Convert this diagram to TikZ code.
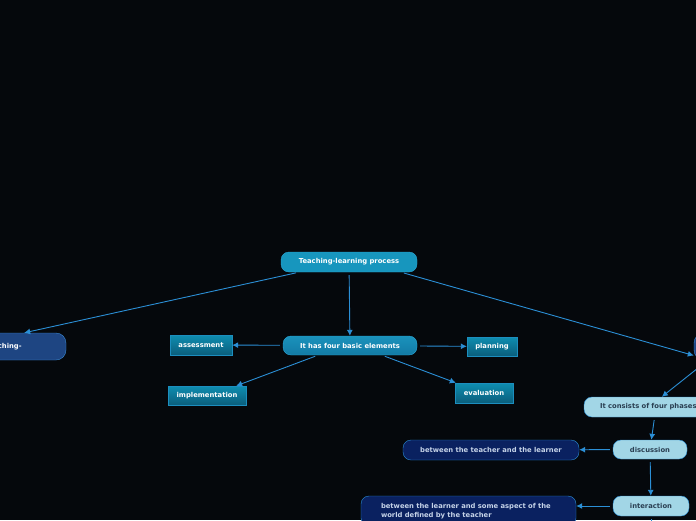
\documentclass[tikz,border=0pt]{standalone}
\usepackage{fontspec}
\setmainfont{DejaVu Sans}
\usepackage{xcolor}
\usepackage{tikz}
\usetikzlibrary{positioning,arrows.meta,calc}
\definecolor{MAPbg}{HTML}{05080C}
\definecolor{MAPline}{HTML}{2B8FD6}
\definecolor{MAProot}{HTML}{1796BE}
\definecolor{MAProotEdge}{HTML}{2AA6D6}
\definecolor{MAPmidTop}{HTML}{1A92BC}
\definecolor{MAPmidBot}{HTML}{137BA6}
\definecolor{MAPtealTop}{HTML}{0E8DB0}
\definecolor{MAPtealBot}{HTML}{0B5E7C}
\definecolor{MAPtealEdge}{HTML}{1C8EBF}
\definecolor{MAPlight}{HTML}{A2D6E6}
\definecolor{MAPlightText}{HTML}{2A3F52}
\definecolor{MAPnavy}{HTML}{0A2160}
\definecolor{MAPnavyText}{HTML}{C5D3E8}
\definecolor{MAPside}{HTML}{1E4582}
\definecolor{MAPsideEdge}{HTML}{3A8AD6}
\tikzset{
  mapfont/.style={font=\fontsize{6.8}{8.4}\selectfont\bfseries},
  rootbox/.style={mapfont, rounded corners=8pt, draw=MAProotEdge, fill=MAProot, text=white, align=center, inner sep=0pt},
  midbox/.style={mapfont, rounded corners=8pt, draw=MAProotEdge, top color=MAPmidTop, bottom color=MAPmidBot, text=white, align=center, inner sep=0pt},
  tealbox/.style={mapfont, draw=MAPtealEdge, top color=MAPtealTop, bottom color=MAPtealBot, text=white, align=center, inner sep=0pt},
  lightbox/.style={mapfont, rounded corners=8pt, draw=MAPline, fill=MAPlight, text=MAPlightText, align=center, inner sep=0pt},
  navybox/.style={mapfont, rounded corners=8pt, draw=MAPline, fill=MAPnavy, text=MAPnavyText, align=center, inner sep=0pt},
  sidebox/.style={mapfont, rounded corners=10pt, draw=MAPsideEdge, fill=MAPside, text=white, inner sep=0pt},
  maparr/.style={-{Latex[length=6pt,width=6pt]}, line width=0.9pt, draw=MAPline, shorten <=3pt}
}
\begin{document}
\begin{tikzpicture}[x=1pt, y=-1pt]
  \useasboundingbox (0,0) rectangle (696,520);
  \fill[MAPbg] (0,0) rectangle (696,520);
  \clip (0,0) rectangle (696,520);
  \node[rootbox, minimum width=136pt, minimum height=20pt] (tlp) at (349,262) {Teaching-learning process};
  \node[midbox, minimum width=134pt, minimum height=19pt] (elements) at (350,345.5) {It has four basic elements};
  \node[sidebox, minimum width=91pt, minimum height=27pt, text width=71pt, inner xsep=10pt, align=left] (side) at (20.5,346.5) {Teaching-};
  \node[sidebox, minimum width=100pt, minimum height=27pt] (phasesrc) at (744,346.5) {};
  \node[tealbox, minimum width=62pt, minimum height=20pt] (assess) at (201,345) {assessment};
  \node[tealbox, minimum width=78pt, minimum height=19pt] (implem) at (207,395.5) {implementation};
  \node[tealbox, minimum width=50pt, minimum height=19pt] (plan) at (492,346.5) {planning};
  \node[tealbox, minimum width=58pt, minimum height=20pt] (evalu) at (484,393) {evaluation};
  \node[lightbox, minimum width=144pt, minimum height=20pt, text width=112pt, inner xsep=16pt, align=left] (phases) at (656,407) {It consists of four phases};
  \node[lightbox, minimum width=74pt, minimum height=19pt] (discuss) at (650,449.5) {discussion};
  \node[lightbox, minimum width=76pt, minimum height=20pt] (interact) at (651,506) {interaction};
  \node[navybox, minimum width=176pt, minimum height=20pt] (teachlearn) at (491,450) {between the teacher and the learner};
  \node[navybox, minimum width=215pt, minimum height=30pt, text width=175pt, inner xsep=20pt, align=left] (learnworld) at (468.5,511) {between the learner and some aspect of the\\world defined by the teacher};
  \coordinate (nextphase) at (651,560);
  \draw[maparr] ([xshift=-50pt]tlp.south) -- ([xshift=-42pt]side.north east);
  \draw[maparr] (tlp) -- (elements);
  \draw[maparr] ([xshift=52pt]tlp.south) -- ([yshift=-9pt]phasesrc.west);
  \draw[maparr] (elements) -- (assess);
  \draw[maparr] (elements) -- (plan);
  \draw[maparr] ([xshift=-32pt]elements.south) -- ([xshift=-10pt]implem.north east);
  \draw[maparr] ([xshift=32pt]elements.south) -- ([xshift=1pt]evalu.north west);
  \draw[maparr] ([xshift=14pt]phasesrc.south west) -- ([xshift=78pt]phases.north west);
  \draw[maparr] (phases.262) -- (discuss);
  \draw[maparr] (discuss) -- (teachlearn);
  \draw[maparr] (discuss) -- (interact);
  \draw[maparr] (interact) -- (learnworld.east |- interact);
  \draw[maparr] (interact) -- (nextphase);
\end{tikzpicture}
\end{document}
